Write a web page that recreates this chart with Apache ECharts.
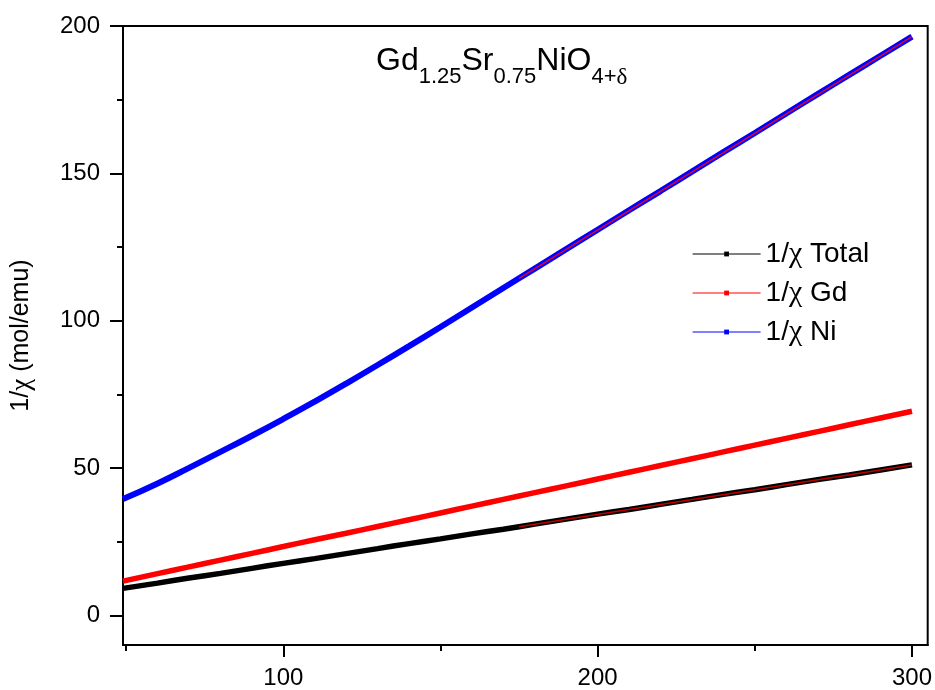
<!DOCTYPE html>
<html>
<head>
<meta charset="utf-8">
<script src="https://cdn.jsdelivr.net/npm/echarts@6/dist/echarts.min.js"></script>
<style>
html,body{margin:0;padding:0;background:#fff;}
#chart{width:935px;height:690px;}
</style>
</head>
<body>
<div id="chart"></div>
<script>
// Temperature (K)
const temps = [49, 60, 70, 80, 90, 100, 110, 120, 130, 140, 150, 160, 170, 180, 190, 200, 210, 220, 230, 240, 250, 260, 270, 280, 290, 300];
// 1/chi Total (mol/emu)
const invChiTotal = [9.2, 11.0, 12.7, 14.3, 16.0, 17.7, 19.3, 21.0, 22.7, 24.4, 26.0, 27.7, 29.3, 31.0, 32.7, 34.4, 36.0, 37.7, 39.4, 41.1, 42.7, 44.4, 46.1, 47.7, 49.4, 51.1];
// 1/chi Gd
const invChiGd = [11.65, 14.2, 16.5, 18.8, 21.1, 23.4, 25.7, 27.9, 30.2, 32.5, 34.8, 37.1, 39.4, 41.7, 44.0, 46.3, 48.6, 50.9, 53.2, 55.5, 57.8, 60.1, 62.4, 64.7, 67.0, 69.3];
// 1/chi Ni
const invChiNi = [39.5, 44.8, 50.1, 55.5, 61.0, 66.7, 72.6, 78.7, 85.0, 91.4, 97.9, 104.5, 111.1, 117.7, 124.3, 130.9, 137.5, 144.0, 150.6, 157.2, 163.7, 170.3, 176.9, 183.4, 189.9, 196.4];
// Linear fits (high-temperature range)
const fitTemps = [175, 300];
const fitTotal = [30.1, 51.1];
const fitNi = [114.4, 196.4];
// Tick values
const xMajorTicks = [100, 200, 300];
const xMinorTicks = [50, 150, 250];
const yMajorTicks = [0, 50, 100, 150, 200];
const yMinorTicks = [25, 75, 125, 175];

const seriesNames = ['1/χ Total', '1/χ Gd', '1/χ Ni'];

function pairs(xs, ys) { return xs.map((x, i) => [x, ys[i]]); }

const chart = echarts.init(document.getElementById('chart'), null, {renderer: 'canvas'});
const FONT = 'Liberation Sans, Arial, sans-serif';
const SERIF = 'Liberation Serif, DejaVu Serif, serif';
const xMin = 49, xMax = 305, yMin = -10, yMax = 200;

const option = {
  backgroundColor: '#fff',
  animation: false,
  title: {
    text: '{m|Gd}{s|1.25}{m|Sr}{s|0.75}{m|NiO}{s|4+}{d|δ}',
    left: 376,
    top: 45,
    padding: 0,
    textStyle: {
      fontWeight: 'normal',
      rich: {
        m: {fontFamily: FONT, fontSize: 32, fontWeight: 'normal', color: '#000', lineHeight: 32, verticalAlign: 'top'},
        s: {fontFamily: FONT, fontSize: 22, fontWeight: 'normal', color: '#000', lineHeight: 22, padding: [21, 0, 0, 0], verticalAlign: 'top'},
        d: {fontFamily: SERIF, fontSize: 23, fontWeight: 'normal', color: '#000', lineHeight: 22, padding: [21, 0, 0, 0], verticalAlign: 'top'}
      }
    }
  },
  grid: {left: 123, top: 26, right: 6, bottom: 41, show: true, borderColor: '#000', borderWidth: 2, containLabel: false},
  legend: {
    data: seriesNames,
    orient: 'vertical',
    left: 692,
    top: 239,
    itemWidth: 68,
    itemHeight: 6,
    itemGap: 9,
    itemTextGap: 10,
    padding: 0,
    lineStyle: {width: 1.2},
    formatter: function (name) {
      return '{a|1/}{c|χ}{a|' + name.slice(3) + '}';
    },
    textStyle: {
      fontFamily: FONT, fontSize: 28, color: '#000', lineHeight: 28,
      rich: {
        a: {fontFamily: FONT, fontSize: 28, color: '#000', lineHeight: 28},
        c: {fontFamily: SERIF, fontSize: 30, color: '#000', lineHeight: 28}
      }
    }
  },
  xAxis: [
    {
      type: 'value', min: xMin, max: xMax, position: 'bottom',
      axisLine: {show: true, onZero: false, lineStyle: {color: '#000', width: 2}},
      axisTick: {show: true, inside: false, length: 12, customValues: xMajorTicks, lineStyle: {color: '#000', width: 2}},
      axisLabel: {show: true, customValues: xMajorTicks, margin: 21, fontFamily: FONT, fontSize: 24, color: '#000'},
      splitLine: {show: false}
    },
    {
      type: 'value', min: xMin, max: xMax, position: 'bottom', gridIndex: 0,
      axisLine: {show: false, onZero: false},
      axisTick: {show: true, inside: false, length: 6, customValues: xMinorTicks, lineStyle: {color: '#000', width: 2}},
      axisLabel: {show: false},
      splitLine: {show: false}
    }
  ],
  yAxis: [
    {
      type: 'value', min: yMin, max: yMax, position: 'left',
      name: '{a|1/}{c|χ}{a| (mol/emu)}',
      nameLocation: 'middle',
      nameGap: 88,
      nameRotate: 90,
      nameTextStyle: {
        rich: {
          a: {fontFamily: FONT, fontSize: 25, color: '#000'},
          c: {fontFamily: SERIF, fontSize: 27, color: '#000'}
        }
      },
      axisLine: {show: true, onZero: false, lineStyle: {color: '#000', width: 2}},
      axisTick: {show: true, inside: false, length: 13, customValues: yMajorTicks, lineStyle: {color: '#000', width: 2}},
      axisLabel: {show: true, customValues: yMajorTicks, margin: 23, fontFamily: FONT, fontSize: 24, color: '#000'},
      splitLine: {show: false}
    },
    {
      type: 'value', min: yMin, max: yMax, position: 'left', gridIndex: 0,
      axisLine: {show: false, onZero: false},
      axisTick: {show: true, inside: false, length: 6, customValues: yMinorTicks, lineStyle: {color: '#000', width: 2}},
      axisLabel: {show: false},
      splitLine: {show: false}
    }
  ],
  series: [
    {
      name: seriesNames[2], type: 'line', xAxisIndex: 0, yAxisIndex: 0,
      data: pairs(temps, invChiNi), smooth: true,
      symbol: 'rect', symbolSize: 5, showSymbol: false,
      itemStyle: {color: '#0000ff'},
      lineStyle: {color: '#0000ff', width: 6}
    },
    {
      name: seriesNames[1], type: 'line', xAxisIndex: 0, yAxisIndex: 0,
      data: pairs(temps, invChiGd), smooth: true,
      symbol: 'rect', symbolSize: 5, showSymbol: false,
      itemStyle: {color: '#ff0000'},
      lineStyle: {color: '#ff0000', width: 5.5}
    },
    {
      name: seriesNames[0], type: 'line', xAxisIndex: 0, yAxisIndex: 0,
      data: pairs(temps, invChiTotal), smooth: true,
      symbol: 'rect', symbolSize: 5, showSymbol: false,
      itemStyle: {color: '#000000'},
      lineStyle: {color: '#000000', width: 5.5}
    },
    {
      name: 'fitTotal', type: 'line', xAxisIndex: 0, yAxisIndex: 0,
      data: pairs(fitTemps, fitTotal), symbol: 'none', silent: true,
      lineStyle: {color: '#c00000', width: 1.5}
    },
    {
      name: 'fitNi', type: 'line', xAxisIndex: 0, yAxisIndex: 0,
      data: pairs(fitTemps, fitNi), symbol: 'none', silent: true,
      lineStyle: {color: '#e00030', width: 1.5}
    }
  ]
};
chart.setOption(option);
</script>
</body>
</html>
